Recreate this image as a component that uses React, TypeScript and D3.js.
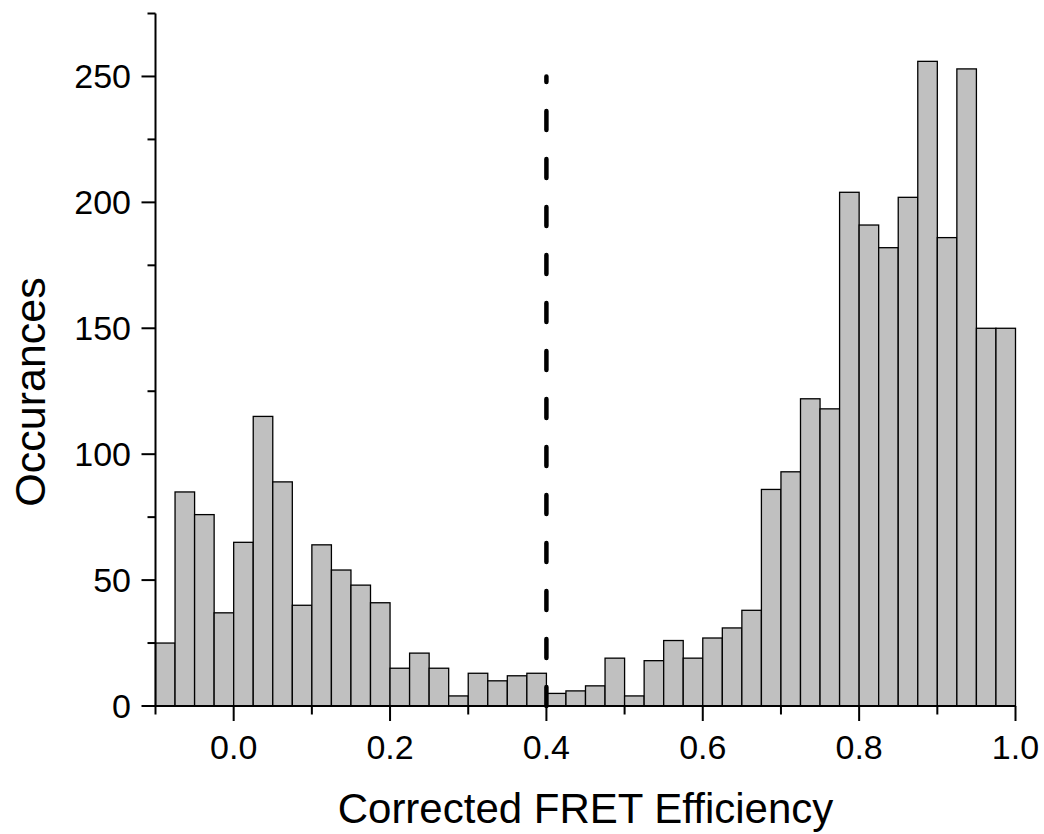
import React from "react";
import * as d3 from "d3";

// Histogram bins (start of each 0.025-wide bin) and counts
const binStarts = [
  -0.1, -0.075, -0.05, -0.025, 0.0, 0.025, 0.05, 0.075, 0.1, 0.125, 0.15,
  0.175, 0.2, 0.225, 0.25, 0.275, 0.3, 0.325, 0.35, 0.375, 0.4, 0.425, 0.45,
  0.475, 0.5, 0.525, 0.55, 0.575, 0.6, 0.625, 0.65, 0.675, 0.7, 0.725, 0.75,
  0.775, 0.8, 0.825, 0.85, 0.875, 0.9, 0.925, 0.95, 0.975,
];
const binWidth = 0.025;
const counts = [
  25, 85, 76, 37, 65, 115, 89, 40, 64, 54, 48, 41, 15, 21, 15, 4, 13, 10, 12,
  13, 5, 6, 8, 19, 4, 18, 26, 19, 27, 31, 38, 86, 93, 122, 118, 204, 191, 182,
  202, 256, 186, 253, 150, 150,
];

const xMajorTicks = [0.0, 0.2, 0.4, 0.6, 0.8, 1.0];
const xMinorTicks = [-0.1, 0.1, 0.3, 0.5, 0.7, 0.9];
const yMajorTicks = [0, 50, 100, 150, 200, 250];
const yMinorTicks = [25, 75, 125, 175, 225, 275];

const thresholdX = 0.4;
const thresholdTop = 250;

const xTitle = "Corrected FRET Efficiency";
const yTitle = "Occurances";

const W = 1044;
const H = 834;
const FONT = "'Liberation Sans', Arial, Helvetica, sans-serif";

export default function App() {
  const x = d3.scaleLinear().domain([-0.1, 1.0]).range([155.5, 1015.5]);
  const y = d3.scaleLinear().domain([0, 275]).range([706, 13.5]);
  const y0 = y(0);

  return (
    <svg
      width={W}
      height={H}
      viewBox={`0 0 ${W} ${H}`}
      style={{ position: "absolute", left: 0, top: 0, background: "#fff" }}
    >
      <rect x={0} y={0} width={W} height={H} fill="#fff" />
      {/* bars */}
      <g>
        {binStarts.map((b, i) => (
          <rect
            key={i}
            x={x(b)}
            y={y(counts[i])}
            width={x(b + binWidth) - x(b)}
            height={y0 - y(counts[i])}
            fill="#c0c0c0"
            stroke="#000"
            strokeWidth={1.3}
          />
        ))}
      </g>
      {/* threshold dashed line */}
      <path
        d={`M${x(thresholdX)},${y0}L${x(thresholdX)},${y(thresholdTop)}`}
        stroke="#000"
        strokeWidth={4.5}
        strokeDasharray="19 29"
        strokeLinecap="round"
        fill="none"
      />
      {/* x axis */}
      <g stroke="#000" strokeWidth={2} fill="none">
        <line x1={x(-0.1)} x2={x(1.0)} y1={y0} y2={y0} />
        {xMajorTicks.map((t) => (
          <line key={"xM" + t} x1={x(t)} x2={x(t)} y1={y0} y2={y0 + 15} />
        ))}
        {xMinorTicks.map((t) => (
          <line key={"xm" + t} x1={x(t)} x2={x(t)} y1={y0} y2={y0 + 8.5} />
        ))}
      </g>
      <g fontFamily={FONT} fontSize={34} fill="#000" textAnchor="middle">
        {xMajorTicks.map((t) => (
          <text key={"xl" + t} x={x(t)} y={759}>
            {d3.format(".1f")(t)}
          </text>
        ))}
      </g>
      {/* y axis */}
      <g stroke="#000" strokeWidth={2} fill="none">
        <line x1={x(-0.1)} x2={x(-0.1)} y1={y(275)} y2={y0} />
        {yMajorTicks.map((t) => (
          <line key={"yM" + t} x1={x(-0.1) - 14} x2={x(-0.1)} y1={y(t)} y2={y(t)} />
        ))}
        {yMinorTicks.map((t) => (
          <line key={"ym" + t} x1={x(-0.1) - 8} x2={x(-0.1)} y1={y(t)} y2={y(t)} />
        ))}
      </g>
      <g fontFamily={FONT} fontSize={34} fill="#000" textAnchor="end">
        {yMajorTicks.map((t) => (
          <text key={"yl" + t} x={131} y={y(t) + 11.5}>
            {t}
          </text>
        ))}
      </g>
      {/* titles */}
      <text
        x={(x(-0.1) + x(1.0)) / 2}
        y={823}
        fontFamily={FONT}
        fontSize={42}
        textAnchor="middle"
        fill="#000"
      >
        {xTitle}
      </text>
      <text
        transform={`translate(45,392) rotate(-90)`}
        fontFamily={FONT}
        fontSize={43}
        textAnchor="middle"
        fill="#000"
      >
        {yTitle}
      </text>
    </svg>
  );
}
